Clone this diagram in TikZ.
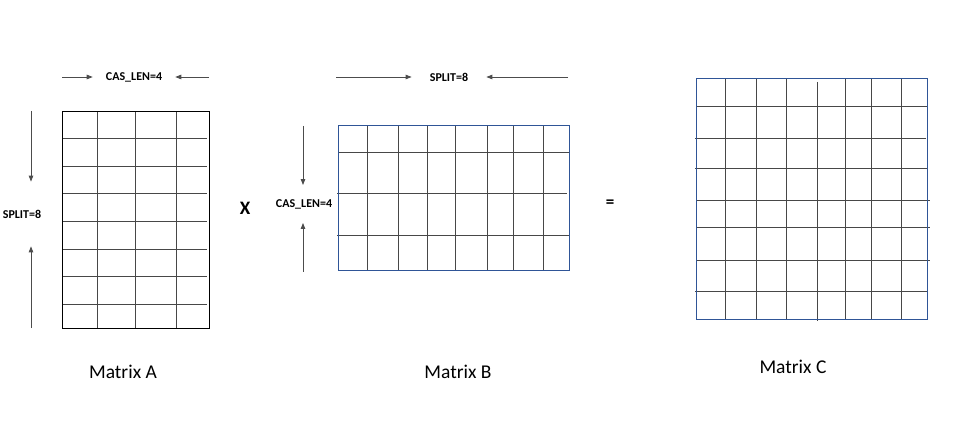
\documentclass[tikz,border=0pt]{standalone}
\usepackage{fontspec}
\setmainfont{Carlito}
\usepackage{xcolor}
\usetikzlibrary{arrows.meta}

\definecolor{matblue}{RGB}{47,85,151}

\begin{document}
\begin{tikzpicture}[x=1pt,y=-1pt,
    gridline/.style={draw=black!72, line width=0.9pt},
    dimarrow/.style={draw=black!70, line width=0.8pt, -{Triangle[length=6pt,width=4.5pt]}},
    dimlabel/.style={font=\fontsize{12}{14}\selectfont\bfseries, inner sep=0pt},
    title/.style={font=\fontsize{19.5}{22}\selectfont}]
    \useasboundingbox (0,0) rectangle (966,430);

    % Matrix A
    \draw[gridline] (97,112) -- (97,328) (135,112) -- (135,328) (176,112) -- (176,328);
    \draw[gridline] (62,138) -- (207,138) (62,166) -- (207,166) (62,193) -- (207,193)
        (62,221) -- (207,221) (62,249) -- (207,249) (62,276) -- (207,276) (62,304) -- (207,304);
    \draw[line width=1pt] (62,112) rectangle (209,328);

    \node[dimlabel, inner xsep=13pt] (casA) at (134,77) {CAS\_LEN=4};
    \coordinate (casAl) at (62,77);
    \coordinate (casAr) at (209,77);
    \draw[dimarrow] (casAl) -- (casA.west);
    \draw[dimarrow] (casAr) -- (casA.east);

    \node[dimlabel, inner ysep=28pt] (splitA) at (22,214) {SPLIT=8};
    \coordinate (splitAt) at (31,111);
    \coordinate (splitAb) at (31,328);
    \draw[dimarrow] (splitAt) -- (splitAt |- splitA.north);
    \draw[dimarrow] (splitAb) -- (splitAb |- splitA.south);

    \node[title] (matA) at (123,372) {Matrix A};

    \node[font=\fontsize{19}{21}\selectfont\bfseries] (times) at (245,208) {X};

    % Matrix B
    \draw[gridline] (367,126) -- (367,271) (398,126) -- (398,271) (427,126) -- (427,271)
        (455,126) -- (455,271) (487,126) -- (487,271) (513,126) -- (513,271) (543,126) -- (543,271);
    \draw[gridline] (338,152) -- (569,152) (337,193) -- (567,193) (337,235) -- (569,235);
    \draw[matblue, line width=1pt] (338,126) rectangle (569,271);

    \node[dimlabel, inner xsep=18pt] (splitB) at (449,77) {SPLIT=8};
    \coordinate (splitBl) at (336,77);
    \coordinate (splitBr) at (568,77);
    \draw[dimarrow] (splitBl) -- (splitB.west);
    \draw[dimarrow] (splitBr) -- (splitB.east);

    \node[dimlabel, inner ysep=14pt] (casB) at (304,204) {CAS\_LEN=4};
    \coordinate (casBt) at (303,126);
    \coordinate (casBb) at (303,272);
    \draw[dimarrow] (casBt) -- (casBt |- casB.north);
    \draw[dimarrow] (casBb) -- (casBb |- casB.south);

    \node[title] (matB) at (458,372) {Matrix B};

    \node[font=\fontsize{17}{19}\selectfont\bfseries] (equals) at (610,204) {=};

    % Matrix C
    \draw[gridline] (725,79) -- (725,319) (756,79) -- (756,319) (786,79) -- (786,319)
        (817,82) -- (817,321) (845,79) -- (845,319) (871,79) -- (871,319) (901,79) -- (901,319);
    \draw[gridline] (696,106) -- (927,106) (695,138) -- (926,138) (695,168) -- (927,168)
        (697,200) -- (930,200) (697,227) -- (930,227) (697,260) -- (930,260) (695,291) -- (927,291);
    \draw[matblue, line width=1pt] (696,79) rectangle (927,319);

    \node[title] (matC) at (793,367) {Matrix C};
\end{tikzpicture}
\end{document}
